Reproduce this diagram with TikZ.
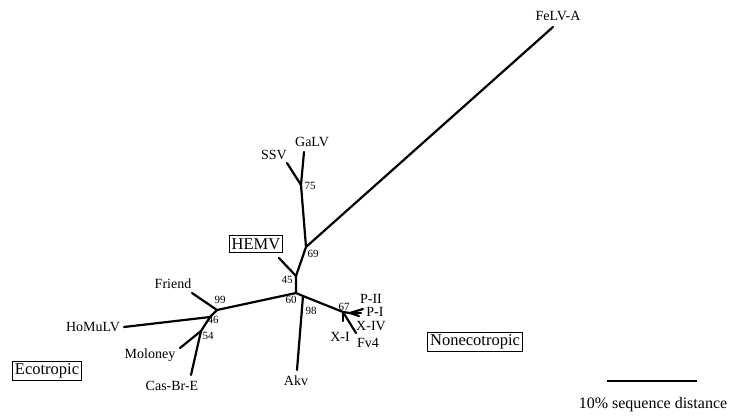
\documentclass[tikz,border=0pt]{standalone}
\usepackage{fontspec}
\setmainfont{Liberation Serif}
\begin{document}
\begin{tikzpicture}[x=1pt,y=-1pt,
  br/.style={line width=2.2pt,line cap=round,line join=round},
  lab/.style={inner sep=0pt,font=\fontsize{14}{14}\selectfont},
  num/.style={inner sep=0pt,font=\fontsize{11}{11}\selectfont},
  boxlab/.style={draw,line width=1pt,inner sep=2.5pt,font=\fontsize{16.5}{16.5}\selectfont}]
\useasboundingbox (0,0) rectangle (733,416);
% internal nodes
\coordinate (C) at (296,293);
\coordinate (N45) at (296,276);
\coordinate (N69) at (306,247);
\coordinate (N75) at (301,185);
\coordinate (N99) at (217,310);
\coordinate (N46) at (210,317);
\coordinate (N54) at (201,331);
\coordinate (Nakv) at (303,296);
\coordinate (N67) at (343,312);
\coordinate (Np) at (350,313);
% leaf ends
\coordinate (eFeLV) at (553,27);
\coordinate (eGaLV) at (304,152);
\coordinate (eSSV) at (287,163);
\coordinate (eHEMV) at (279,258);
\coordinate (eFriend) at (192,293);
\coordinate (eHoMu) at (124,327);
\coordinate (eMol) at (180,348);
\coordinate (eCas) at (191,375);
\coordinate (eAkv) at (297,370);
\coordinate (ePII) at (363,309);
\coordinate (ePI) at (361,313);
\coordinate (eXIV) at (359,316);
\coordinate (eFv4) at (356,333);
\coordinate (eXI) at (343,321);
% branches
\draw[br] (C) -- (N45) -- (N69) -- (eFeLV);
\draw[br] (N45) -- (eHEMV);
\draw[br] (N69) -- (N75) -- (eGaLV);
\draw[br] (N75) -- (eSSV);
\draw[br] (C) -- (N99) -- (eFriend);
\draw[br] (N99) -- (N46) -- (eHoMu);
\draw[br] (N46) -- (N54) -- (eCas);
\draw[br] (N54) -- (eMol);
\draw[br] (C) -- (Nakv) -- (eAkv);
\draw[br] (Nakv) -- (N67) -- (Np) -- (ePII);
\draw[br] (Np) -- (ePI);
\draw[br] (Np) -- (eXIV);
\draw[br] (N67) -- (eFv4);
\draw[br] (N67) -- (eXI);
% leaf labels
\node[lab] (lFeLV) at (558,16) {FeLV-A};
\node[lab] (lGaLV) at (312,142) {GaLV};
\node[lab] (lSSV) at (274,155) {SSV};
\node[lab] (lFriend) at (173,284) {Friend};
\node[lab] (lHoMu) at (93,327) {HoMuLV};
\node[lab] (lMol) at (150,355) {Moloney};
\node[lab] (lCas) at (172,386) {Cas-Br-E};
\node[lab] (lAkv) at (296,381) {Akv};
\node[lab] (lPII) at (371,299) {P-II};
\node[lab] (lPI) at (375,312) {P-I};
\node[lab] (lXIV) at (371,326) {X-IV};
\node[lab] (lXI) at (340,337) {X-I};
\node[lab] (lFv4) at (368,343) {Fv4};
% bootstrap values
\node[num] (b75) at (310,186) {75};
\node[num] (b69) at (313,254) {69};
\node[num] (b45) at (287,280) {45};
\node[num] (b99) at (220,300) {99};
\node[num] (b46) at (213,320) {46};
\node[num] (b54) at (208,336) {54};
\node[num] (b60) at (291,300) {60};
\node[num] (b98) at (311,311) {98};
\node[num] (b67) at (344,307) {67};
% boxed labels
\node[boxlab] (hemv) at (256,244) {HEMV};
\node[boxlab] (eco) at (47,371) {Ecotropic};
\node[boxlab] (noneco) at (475,342) {Nonecotropic};
% scale bar
\coordinate (s1) at (607,381);
\coordinate (s2) at (697,381);
\draw[line width=2.2pt] (s1) -- (s2);
\node[inner sep=0pt,font=\fontsize{16}{16}\selectfont] (slab) at (653,405) {10\% sequence distance};
\end{tikzpicture}
\end{document}
